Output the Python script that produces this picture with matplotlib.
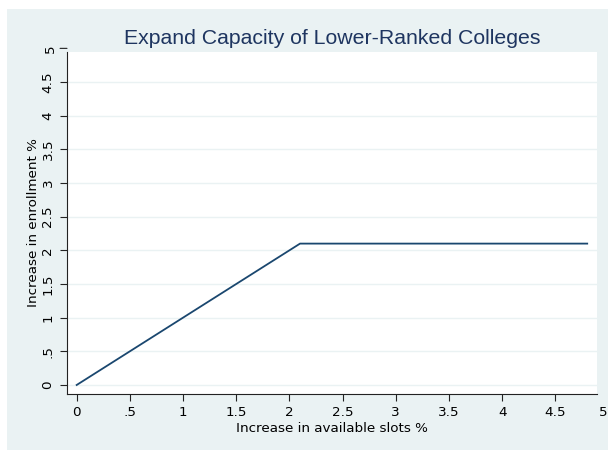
import matplotlib
matplotlib.use("Agg")
import matplotlib.pyplot as plt
from matplotlib.patches import Rectangle

plt.rcParams['font.family'] = ['DejaVu Sans']

# data
slots = [0, 2.1, 4.8]
enroll = [0, 2.1, 2.1]

xticks = [0, 0.5, 1, 1.5, 2, 2.5, 3, 3.5, 4, 4.5]
xticklabels = ['0', '.5', '1', '1.5', '2', '2.5', '3', '3.5', '4', '4.5']
yticks = [0, 0.5, 1, 1.5, 2, 2.5, 3, 3.5, 4, 4.5]
yticklabels = ['0', '.5', '1', '1.5', '2', '2.5', '3', '3.5', '4', '4.5']

title = "Expand Capacity of Lower-Ranked Colleges"
xlab = "Increase in available slots %"
ylab = "Increase in enrollment %"

bg = '#EAF2F3'
navy = '#1a476f'
W, H = 608, 450
fs = 9.7

fig = plt.figure(figsize=(W / 100, H / 100), dpi=100)
fig.patch.set_facecolor('white')
fig.patches.append(Rectangle((7 / W, 0), 1 - 7 / W, 1 - 9 / H,
                             transform=fig.transFigure, facecolor=bg,
                             edgecolor='none', zorder=-5))

left, right, top, bottom = 67, 597, 52, 394
ax = fig.add_axes([left / W, 1 - bottom / H, (right - left) / W, (bottom - top) / H])
ax.set_facecolor('white')

ax.plot(slots, enroll, color=navy, lw=1.3)

ax.set_xlim(-0.091, 4.892)
ax.set_ylim(-0.134, 4.946)

ax.set_xticks(xticks)
ax.set_xticklabels(xticklabels)
ax.set_yticks(yticks)
ax.set_yticklabels(yticklabels, rotation=90, va='center')

for g in yticks:
    ax.axhline(g, color=bg, lw=1.0, zorder=0)

for s in ['top', 'right']:
    ax.spines[s].set_visible(False)
for s in ['left', 'bottom']:
    ax.spines[s].set_color('#222222')
    ax.spines[s].set_linewidth(0.8)

ax.tick_params(axis='both', direction='out', length=5, width=0.8,
               color='#222222', labelsize=fs, labelcolor='black')
ax.tick_params(axis='x', pad=4)
ax.tick_params(axis='y', pad=4)

# the 5 ticks sit just outside the plot region
ax.annotate('5', xy=(1, 1 - 406 / H), xycoords='figure fraction',
            ha='right', va='top', fontsize=fs, annotation_clip=False)
ax.annotate('5', xy=(0, 5), xycoords=('axes fraction', 'data'),
            xytext=(-7.5, 0), textcoords='offset points', rotation=90,
            ha='right', va='center', fontsize=fs, annotation_clip=False)
ax.annotate('', xy=(0, 5), xycoords=('axes fraction', 'data'),
            xytext=(-5, 0), textcoords='offset points',
            arrowprops=dict(arrowstyle='-', color='#222222', lw=0.8,
                            shrinkA=0, shrinkB=0), annotation_clip=False)

ax.set_xlabel(xlab, fontsize=fs)
ax.xaxis.set_label_coords(0.5, (bottom - 432.3) / (bottom - top))
ax.xaxis.label.set_va('baseline')
ax.set_ylabel(ylab, fontsize=fs)
ax.yaxis.set_label_coords((34 - left) / (right - left), (bottom - 222.5) / (bottom - top))
ax.yaxis.label.set_va('center')

fig.text(332.5 / W, 1 - 44.3 / H, title, ha='center', va='baseline',
         fontsize=15.3, color='#1e3560', family='Liberation Sans')

fig.savefig('out.png', dpi=100, facecolor=fig.get_facecolor())
